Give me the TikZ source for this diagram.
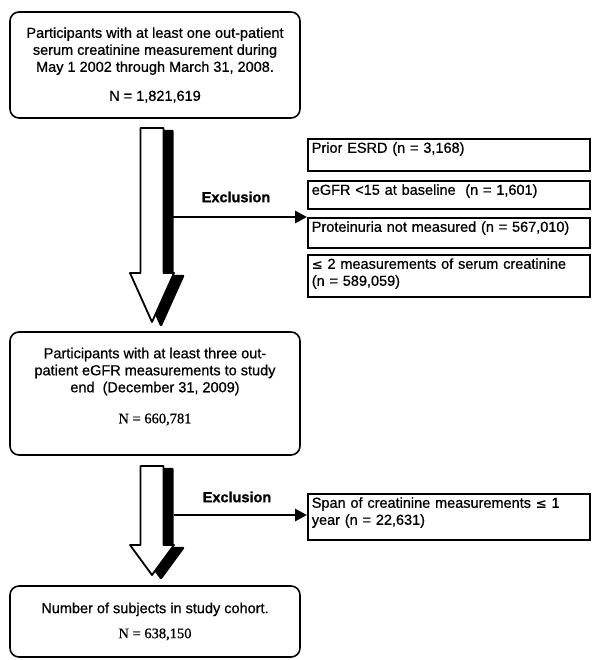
\documentclass[tikz,border=0pt]{standalone}
\usepackage{fontspec}
\setmainfont{Liberation Sans}[UprightFeatures={FakeBold=0.7},BoldFeatures={FakeBold=1.2}]
\newfontfamily\cohortserif{Liberation Serif}[UprightFeatures={FakeBold=0.9}]
\newfontfamily\cohortsym{DejaVu Sans}[UprightFeatures={FakeBold=0.5}]
\usetikzlibrary{arrows.meta,positioning}
\tikzset{
  every picture/.style={font=\fontsize{14.5}{17}\selectfont, text=black},
  flow box/.style={draw=black, line width=1.6pt, rounded corners=9pt,
    minimum width=290pt, align=center, inner sep=0pt},
  excl box/.style={draw=black, line width=1.6pt, anchor=north west,
    text width=274pt, align=left, inner xsep=4pt, inner ysep=4pt,
    text height=10pt},
  excl arrow/.style={-{Triangle[length=12pt,width=12pt]},
    draw=black, line width=2.8pt},
  excl label/.style={font=\fontsize{14.5}{17}\selectfont\bfseries},
  fat shadow/.style={fill=black, draw=black, line width=2.4pt, line join=round},
  fat body/.style={fill=white, draw=black, line width=1.8pt, line join=round}
}

\begin{document}
\begin{tikzpicture}[x=1pt,y=-1pt]
  \useasboundingbox (0,0) rectangle (591,660);
  % main flow
  \node[flow box, minimum height=106pt] (start) at (155,65)
    {Participants with at least one out-patient\\
     serum creatinine measurement during\\
     May 1 2002 through March 31, 2008.\\[12pt]
     N = 1,821,619};
  \node[flow box, minimum height=123pt] (mid) at (155,393.5)
    {Participants with at least three out-\\
     patient eGFR measurements to study\\
     end\ \ (December 31, 2009)\\[14pt]
     {\cohortserif N = 660,781}\rule[-16pt]{0pt}{0pt}};
  \node[flow box, minimum height=71pt] (cohort) at (155,621.5)
    {Number of subjects in study cohort.\\[8pt]
     {\cohortserif N = 638,150}};
  % exclusions
  \node[excl box, text depth=14pt] (ex1) at (307,138) {Prior ESRD (n = 3,168)};
  \node[excl box, text depth=10pt] (ex2) at (307,180) {eGFR <15 at baseline\ \ (n = 1,601)};
  \node[excl box, text depth=12pt] (ex3) at (307,217) {Proteinuria not measured (n = 567,010)};
  \node[excl box, text depth=24pt] (ex4) at (307,254)
    {{\cohortsym\fontsize{13}{17}\selectfont ≤} 2 measurements of serum creatinine\\(n = 589,059)};
  \node[excl box, text depth=28pt] (span) at (307,493)
    {Span of creatinine measurements {\cohortsym\fontsize{13}{17}\selectfont ≤} 1\\year (n = 22,631)};
  % fat arrows
  \foreach \top/\neck/\tip in {128/273/322, 466/545/575}{
    \draw[fat shadow, xshift=9pt, yshift=-3pt]
      (140.5,\top) -- (163.5,\top) -- (163.5,\neck) -- (174,\neck)
      -- (152,\tip) -- (130,\neck) -- (140.5,\neck) -- cycle;
    \draw[fat body]
      (140.5,\top) -- (163.5,\top) -- (163.5,\neck) -- (174,\neck)
      -- (152,\tip) -- (130,\neck) -- (140.5,\neck) -- cycle;
  }
  \coordinate (cut1) at (173,217);
  \coordinate (cut2) at (174,515);
  \draw[excl arrow] (cut1) -- (cut1 -| ex3.west);
  \draw[excl arrow] (cut2) -- (cut2 -| span.west);
  \node[excl label] (lab1) at (236,197) {Exclusion};
  \node[excl label] (lab2) at (237,497) {Exclusion};
\end{tikzpicture}
\end{document}
